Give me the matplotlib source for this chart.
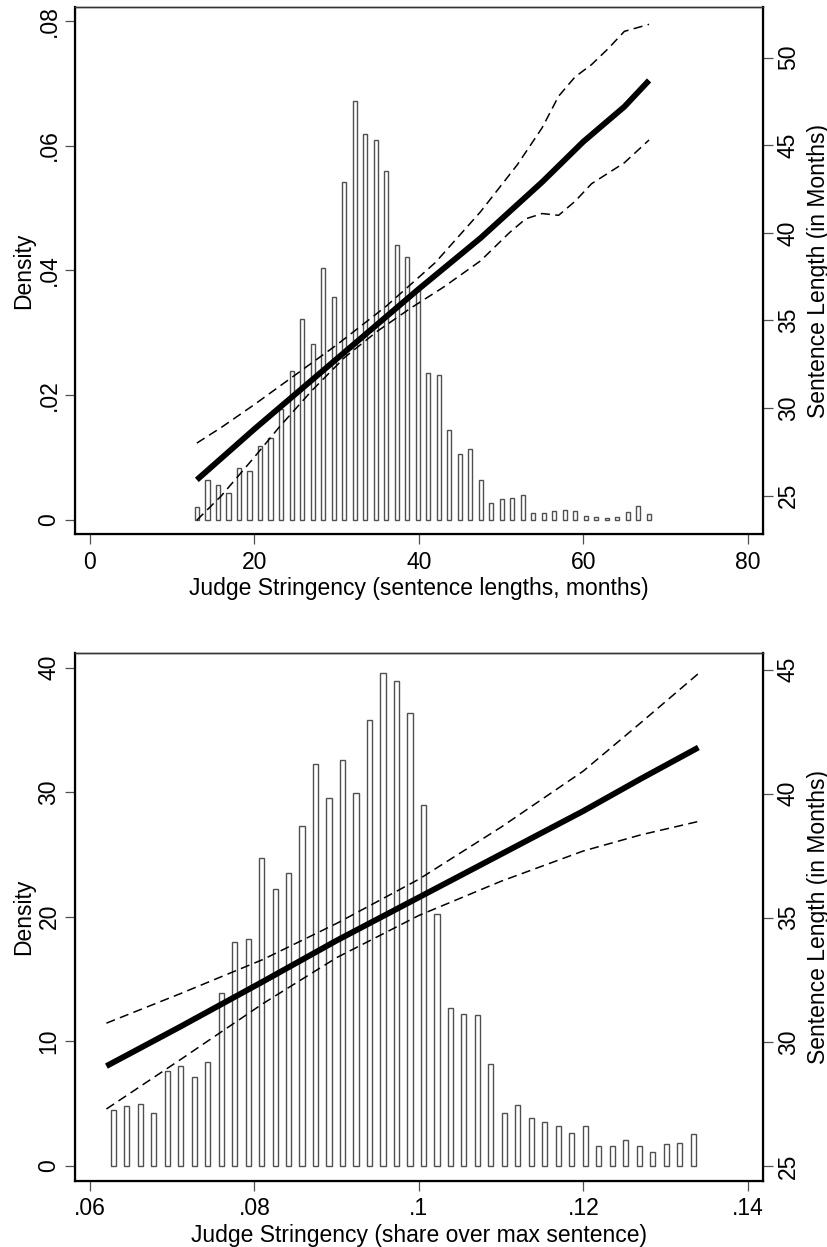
import numpy as np
import matplotlib
matplotlib.use('Agg')
import matplotlib.pyplot as plt

plt.rcParams['font.family'] = ['Liberation Sans', 'DejaVu Sans']
plt.rcParams['font.size'] = 16.5

# ---- top panel: sentence lengths in months ----
top_first_bin = 13.02
top_bin_step = 1.2777
top_density = [0.0021, 0.0064, 0.0056, 0.0044, 0.0084, 0.0078, 0.0119, 0.0131, 0.0178, 0.0239,
               0.0322, 0.0282, 0.0404, 0.0357, 0.0541, 0.0672, 0.0618, 0.0609, 0.0559, 0.0440,
               0.0422, 0.0372, 0.0235, 0.0232, 0.0145, 0.0106, 0.0113, 0.0064, 0.0028, 0.0033,
               0.0036, 0.0040, 0.0011, 0.0011, 0.0015, 0.0016, 0.0015, 0.0007, 0.0005, 0.0003,
               0.0005, 0.0013, 0.0022, 0.0010]
top_fit_x = [13, 20, 30, 40, 47.5, 55, 60, 65, 68]
top_fit_y = [25.9, 28.8, 32.8, 36.8, 39.7, 42.9, 45.2, 47.2, 48.7]
top_hi_x = [13, 16, 20, 25, 30, 36, 42, 47.5, 52, 55, 57, 59, 61, 63, 65, 68]
top_hi_y = [28.0, 28.9, 30.2, 31.9, 33.6, 35.8, 38.3, 41.2, 43.9, 46.0, 47.8, 48.9, 49.6, 50.5, 51.5, 51.9]
top_lo_x = [13, 16, 20, 23, 27, 31, 35, 39, 43, 47.5, 51, 53, 55, 57, 59, 61, 63, 65, 68]
top_lo_y = [23.6, 25.0, 27.2, 28.9, 31.0, 32.9, 34.4, 35.7, 36.9, 38.4, 40.0, 40.8, 41.1, 41.0,
            41.8, 42.8, 43.4, 44.0, 45.3]
top_xticks = [0, 20, 40, 60, 80]
top_xlabels = ['0', '20', '40', '60', '80']
top_yticks = [0, 0.02, 0.04, 0.06, 0.08]
top_ylabels = ['0', '.02', '.04', '.06', '.08']
top_y2ticks = [25, 30, 35, 40, 45, 50]

# ---- bottom panel: share over max sentence ----
bot_first_bin = 0.06282
bot_bin_step = 0.001641
bot_density = [4.5, 4.76, 4.95, 4.23, 7.57, 8.03, 7.15, 8.3, 13.9, 18.0,
               18.2, 24.7, 22.2, 23.5, 27.3, 32.3, 29.5, 32.6, 29.9, 35.8,
               39.6, 38.9, 36.4, 29.0, 20.2, 12.7, 12.2, 12.1, 8.2, 4.2,
               4.9, 3.8, 3.5, 3.2, 2.65, 3.2, 1.55, 1.55, 2.1, 1.55,
               1.12, 1.71, 1.82, 2.55]
bot_line_x = [0.062, 0.071, 0.081, 0.090, 0.100, 0.110, 0.120, 0.127, 0.134]
bot_fit_y = [29.02, 30.61, 32.42, 34.08, 35.82, 37.56, 39.30, 40.60, 41.86]
bot_hi_y = [30.75, 31.94, 33.31, 34.77, 36.55, 38.65, 40.91, 42.86, 44.84]
bot_lo_y = [27.29, 29.28, 31.53, 33.39, 35.09, 36.47, 37.69, 38.34, 38.88]
bot_xticks = [0.06, 0.08, 0.10, 0.12, 0.14]
bot_xlabels = ['.06', '.08', '.1', '.12', '.14']
bot_yticks = [0, 10, 20, 30, 40]
bot_ylabels = ['0', '10', '20', '30', '40']
bot_y2ticks = [25, 30, 35, 40, 45]


def panel(ax, first, step, dens, bw, fx, fy, hx, hy, lx, ly,
          xlim, ylim, y2lim, xt, xtl, yt, ytl, y2t, xlabel):
    centers = first + step * np.arange(len(dens))
    ax.bar(centers, dens, width=bw, facecolor='white', edgecolor='#505050', linewidth=1.0)
    ax.set_xlim(xlim)
    ax.set_ylim(ylim)
    ax.set_xticks(xt)
    ax.set_xticklabels(xtl)
    ax.set_yticks(yt)
    ax.set_yticklabels(ytl, rotation=90, va='center')
    ax.tick_params(axis='both', direction='out', length=7, width=0.9, color='#505050')
    ax.tick_params(axis='x', pad=5)
    ax.tick_params(axis='y', pad=3.5)
    ax.set_xlabel(xlabel, labelpad=2.5)
    ax.set_ylabel('Density')
    ax.yaxis.set_label_coords(-0.058, 0.5)
    for s in ['left', 'bottom']:
        ax.spines[s].set_linewidth(1.6)
        ax.spines[s].set_color('black')
    ax.spines['top'].set_linewidth(1.0)
    ax.spines['top'].set_color('#333333')

    ax2 = ax.twinx()
    ax2.plot(hx, hy, color='black', lw=1.1, ls=(0, (6, 3.5)))
    ax2.plot(lx, ly, color='black', lw=1.1, ls=(0, (6, 3.5)))
    ax2.plot(fx, fy, color='black', lw=4.2, solid_capstyle='butt')
    ax2.set_ylim(y2lim)
    ax2.set_yticks(y2t)
    ax2.set_yticklabels([str(v) for v in y2t], rotation=90, va='center')
    ax2.tick_params(axis='y', direction='out', length=7, width=0.9, color='#505050', pad=3)
    ax2.set_ylabel('Sentence Length (in Months)', rotation=90)
    ax2.yaxis.set_label_coords(1.064, 0.5)
    ax2.spines['right'].set_linewidth(1.6)
    ax2.spines['right'].set_color('black')
    ax2.spines['top'].set_linewidth(1.0)
    ax2.spines['top'].set_color('#333333')


fig = plt.figure(figsize=(8.28, 12.47), dpi=100)
ax_top = fig.add_axes([75 / 828, 1 - 534 / 1247, 688 / 828, 527 / 1247])
ax_bot = fig.add_axes([75 / 828, 1 - 1180.7 / 1247, 688 / 828, 527.7 / 1247])

panel(ax_top, top_first_bin, top_bin_step, top_density, 0.5,
      top_fit_x, top_fit_y, top_hi_x, top_hi_y, top_lo_x, top_lo_y,
      (-1.82, 81.86), (-0.00224, 0.0822), (22.81, 52.89),
      top_xticks, top_xlabels, top_yticks, top_ylabels, top_y2ticks,
      'Judge Stringency (sentence lengths, months)')

panel(ax_bot, bot_first_bin, bot_bin_step, bot_density, 0.00062,
      bot_line_x, bot_fit_y, bot_line_x, bot_hi_y, bot_line_x, bot_lo_y,
      (0.05818, 0.14186), (-1.2, 41.18), (24.40, 45.67),
      bot_xticks, bot_xlabels, bot_yticks, bot_ylabels, bot_y2ticks,
      'Judge Stringency (share over max sentence)')

fig.savefig('out.png', dpi=100, facecolor='white')
